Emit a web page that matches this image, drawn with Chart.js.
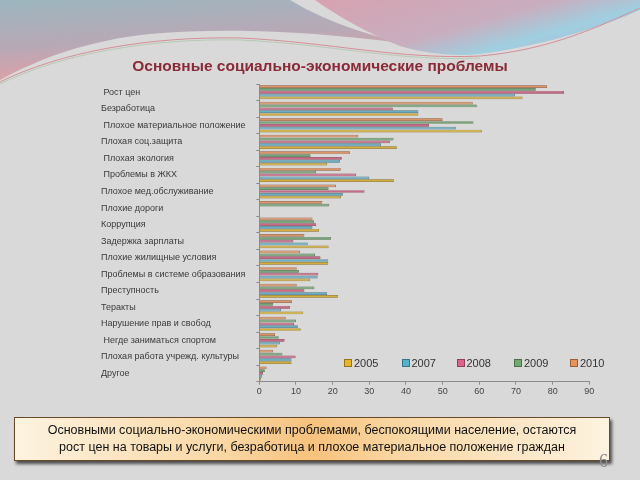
<!DOCTYPE html>
<html>
<head>
<meta charset="utf-8">
<script src="https://cdn.jsdelivr.net/npm/chart.js@4"></script>
<style>
  html,body{margin:0;padding:0;}
  body{width:640px;height:480px;background:#d9d9d9;position:relative;overflow:hidden;font-family:"Liberation Sans",Arial,sans-serif;}
  #bg{position:absolute;left:0;top:0;}
  #wrap{position:absolute;left:0;top:0;width:640px;height:480px;}
  #title{position:absolute;left:0;top:57px;width:640px;text-align:center;font-weight:bold;font-size:15.5px;line-height:18px;color:#8b2a37;}
  #legend{position:absolute;top:356px;left:344px;height:14px;}
  .li{position:absolute;top:0;font-size:11px;line-height:14px;color:#333;white-space:nowrap;}
  .li i{display:inline-block;width:6px;height:6px;margin-right:2px;vertical-align:0px;border:0.5px solid rgba(0,0,0,0.35);}
  #note{position:absolute;left:14px;top:417px;width:594px;height:42px;border:1px solid #6b4a2a;
    background:linear-gradient(90deg,#fdf3e0 0%,#f9d7a4 35%,#f7c27c 50%,#f9d7a4 65%,#fdf3e0 100%);
    box-shadow:2px 3px 3px rgba(0,0,0,0.65);display:flex;align-items:center;justify-content:center;text-align:center;
    font-size:12.5px;line-height:17px;color:#111;}
  #page{position:absolute;left:599px;top:451px;font-family:"Liberation Serif","DejaVu Serif",serif;font-size:18px;color:#8a8a8a;z-index:2;}
</style>
</head>
<body>
<svg id="bg" width="640" height="480">
  <defs>
    <linearGradient id="gl" x1="0" y1="0" x2="0.3" y2="1">
      <stop offset="0" stop-color="#9db6bf"/>
      <stop offset="0.55" stop-color="#b7a9b6"/>
      <stop offset="1" stop-color="#e39fa6"/>
    </linearGradient>
    <linearGradient id="gr" x1="0" y1="0" x2="1" y2="0.6">
      <stop offset="0" stop-color="#d7a2b0"/>
      <stop offset="0.55" stop-color="#c8aebf"/>
      <stop offset="0.8" stop-color="#9fcfe0"/>
      <stop offset="1" stop-color="#b4b7d4"/>
    </linearGradient>
  </defs>
  <path d="M0,0 H290 C320,18 360,34 410,44 C330,34 240,26 150,34 C90,40 40,58 0,80 Z" fill="url(#gl)"/>
  <path d="M315,0 H640 V10 C600,28 540,46 480,54 C450,57 420,52 400,46 C370,34 340,18 315,0 Z" fill="url(#gr)"/>
  <path d="M0,82 C60,52 150,36 240,38 C330,42 400,60 480,56 C550,50 600,26 640,8" fill="none" stroke="#d48f9a" stroke-width="1"/>
  <path d="M0,84 C60,54 150,38 240,40 C330,44 400,62 480,58" fill="none" stroke="#9fbf9a" stroke-width="0.6"/>
</svg>

<div id="wrap"><canvas id="c"></canvas></div>

<div id="title">Основные социально-экономические проблемы</div>
<div id="legend"></div>
<div id="note">Основными социально-экономическими проблемами, беспокоящими население, остаются<br>рост цен на товары и услуги, безработица и плохое материальное положение граждан</div>
<div id="page">6</div>

<script>
const categories = [' Рост цен', 'Безработица', ' Плохое материальное положение', 'Плохая соц.защита',
  ' Плохая экология', ' Проблемы в ЖКХ', 'Плохое мед.обслуживание', 'Плохие дороги', 'Коррупция',
  'Задержка зарплаты', 'Плохие жилищные условия', 'Проблемы в системе образования', 'Преступность',
  'Теракты', 'Нарушение прав и свобод', ' Негде заниматься спортом', 'Плохая работа учрежд. культуры', 'Другое'];

const years = ['2005', '2007', '2008', '2009', '2010'];

const v2005 = [71.8, 43.4, 60.7, 37.5, 18.5, 36.7, 22.3, null, 16.3, 18.9, 18.8, 13.8, 21.5, 12.0, 11.3, 4.9, 8.8, 0.5];
const v2007 = [69.7, 43.4, 53.6, 33.2, 22.0, 30.0, 22.8, null, 14.5, 13.2, 18.8, 15.9, 18.5, 5.9, 10.5, 5.6, 8.8, 0.8];
const v2008 = [83.1, 36.4, 46.3, 35.6, 22.5, 26.4, 28.7, null, 15.5, 9.3, 16.7, 16.1, 12.3, 8.4, 9.5, 6.9, 9.9, 1.0];
const v2009 = [75.4, 59.3, 58.4, 36.6, 14.0, 15.5, 18.9, 19.1, 14.9, 19.6, 15.2, 10.8, 15.0, 3.8, 10.0, 5.3, 6.3, 1.5];
const v2010 = [78.5, 58.2, 50.0, 27.0, 24.7, 22.2, 20.9, 17.2, 14.5, 12.3, 11.1, 10.2, 10.2, 8.9, 7.2, 4.3, 3.8, 2.0];

const xTicks = [0, 10, 20, 30, 40, 50, 60, 70, 80, 90];

// fill / border per year
const fills   = {'2005':'#d2ae3e','2007':'#6eadc0','2008':'#c96b87','2009':'#79a477','2010':'#db9467'};
const borders = {'2005':'#8a6f1c','2007':'#3f7585','2008':'#864055','2009':'#4a6c48','2010':'#8e5a38'};
const legendCol = {'2005':'#e8b622','2007':'#52b2cc','2008':'#de6289','2009':'#70ac70','2010':'#e8925a'};

const series = {'2005':v2005,'2007':v2007,'2008':v2008,'2009':v2009,'2010':v2010};

// Excel draws the last series on top inside each group
const order = years.slice().reverse();
const datasets = order.map(y => ({
  label: y,
  data: series[y],
  backgroundColor: fills[y],
  borderColor: borders[y],
  borderWidth: 0.7,
  categoryPercentage: 0.86,
  barPercentage: 0.96
}));

new Chart(document.getElementById('c'), {
  type: 'bar',
  data: { labels: categories, datasets },
  options: {
    indexAxis: 'y',
    responsive: true,
    maintainAspectRatio: false,
    animation: false,
    layout: { padding: { left: 101, right: 50.7, top: 84, bottom: 78.3 } },
    plugins: { legend: { display: false }, tooltip: { enabled: false } },
    scales: {
      x: {
        min: 0, max: 90,
        afterBuildTicks: s => { s.ticks = xTicks.map(v => ({ value: v })); },
        afterFit: s => { s.height = 20; },
        grid: { drawOnChartArea: false, tickLength: 3, color: '#8c8c8c' },
        border: { color: '#8c8c8c' },
        ticks: { padding: 1, color: '#444', font: { family: 'Liberation Sans', size: 9 } }
      },
      y: {
        afterFit: s => { s.width = 158.3; },
        grid: { offset: true, drawOnChartArea: false, tickLength: 3, color: '#8c8c8c' },
        border: { color: '#8c8c8c' },
        ticks: { crossAlign: 'far', autoSkip: false, color: '#3a3a3a', font: { family: 'Liberation Sans', size: 9 } }
      }
    }
  }
});

// legend in the lower right of the plot
const legendX = [0, 57.5, 112.5, 170, 226];
const lg = document.getElementById('legend');
years.forEach((y, i) => {
  const d = document.createElement('div');
  d.className = 'li';
  d.style.left = legendX[i] + 'px';
  d.innerHTML = '<i style="background:' + legendCol[y] + '"></i>' + y;
  lg.appendChild(d);
});
</script>
</body>
</html>
